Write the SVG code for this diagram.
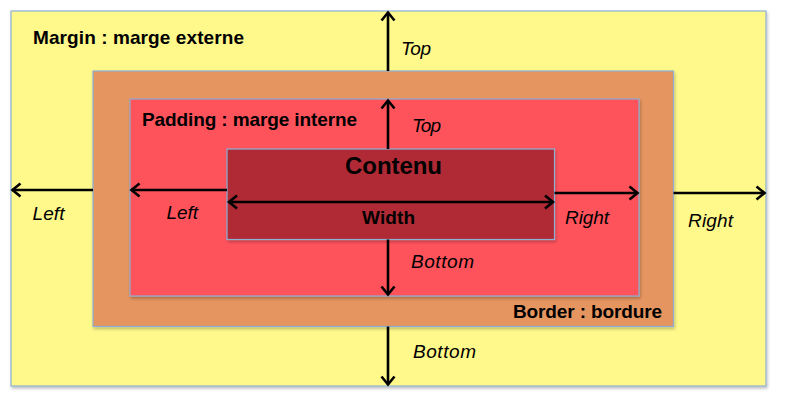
<svg xmlns="http://www.w3.org/2000/svg" width="786" height="401" viewBox="0 0 786 401">
<style>
  .box { stroke: #8EAFD2; stroke-width: 1.2; }
  .lbl { font-family: "Liberation Sans", Arial, sans-serif; font-weight: bold; font-size: 19px; fill: #000; }
  .big { font-size: 24px; }
  .it { font-family: "Liberation Sans", Arial, sans-serif; font-style: italic; font-size: 19px; fill: #000; }
  .conn line { stroke: #000; stroke-width: 2.6; fill: none; }
</style>
<defs>
  <marker id="ah" markerUnits="userSpaceOnUse" markerWidth="20" markerHeight="20" viewBox="-12 -10 14 20" refX="0" refY="0" orient="auto-start-reverse">
    <path d="M -8 -6.5 L 0 0 L -8 6.5" fill="none" stroke="#000" stroke-width="2.6" stroke-linejoin="miter"/>
  </marker>
  <filter id="sh" x="-5%" y="-5%" width="110%" height="115%">
    <feDropShadow dx="1" dy="2" stdDeviation="1.5" flood-color="#000" flood-opacity="0.25"/>
  </filter>
</defs>
<rect width="786" height="401" fill="#fff"/>
<g id="margin">
  <rect class="box" x="11" y="11" width="755" height="375" fill="#FFF98B" filter="url(#sh)"/>
  <text class="lbl" x="33" y="43.5" textLength="211">Margin : marge externe</text>
</g>
<g id="border">
  <rect class="box" x="93" y="71" width="580.5" height="255.5" fill="#E59561" filter="url(#sh)"/>
  <text class="lbl" x="513" y="318" textLength="149">Border : bordure</text>
</g>
<g id="padding">
  <rect class="box" x="130" y="99" width="509" height="197" fill="#FF525B" filter="url(#sh)"/>
  <text class="lbl" x="142" y="125.5" textLength="215">Padding : marge interne</text>
</g>
<g id="contenu">
  <rect class="box" x="227" y="149" width="327.5" height="90.5" fill="#AF2B36" filter="url(#sh)"/>
  <text class="lbl big" x="345" y="173.5" textLength="97">Contenu</text>
  <text class="lbl" x="362" y="224" textLength="53">Width</text>
</g>
<g class="conn" id="connectors">
  <line x1="388" y1="71" x2="388" y2="12.5" marker-end="url(#ah)"/>
  <line x1="388" y1="149" x2="388" y2="100.5" marker-end="url(#ah)"/>
  <line x1="388" y1="239.5" x2="388" y2="294.5" marker-end="url(#ah)"/>
  <line x1="388" y1="326.5" x2="388" y2="384.5" marker-end="url(#ah)"/>
  <line x1="93" y1="190" x2="12.5" y2="190" marker-end="url(#ah)"/>
  <line x1="227" y1="190" x2="131.5" y2="190" marker-end="url(#ah)"/>
  <line x1="554.5" y1="193" x2="637.5" y2="193" marker-end="url(#ah)"/>
  <line x1="673.5" y1="193" x2="764.5" y2="193" marker-end="url(#ah)"/>
  <line x1="229" y1="202" x2="553" y2="202" marker-start="url(#ah)" marker-end="url(#ah)"/>
</g>
<g id="labels">
  <text class="it" x="401" y="55" textLength="30">Top</text>
  <text class="it" x="412" y="132" textLength="29">Top</text>
  <text class="it" x="32.5" y="219.5" textLength="32">Left</text>
  <text class="it" x="166.5" y="219" textLength="31.5">Left</text>
  <text class="it" x="565" y="224" textLength="44">Right</text>
  <text class="it" x="688" y="227" textLength="45">Right</text>
  <text class="it" x="411" y="267.5" textLength="63">Bottom</text>
  <text class="it" x="413" y="358" textLength="63">Bottom</text>
</g>
</svg>
